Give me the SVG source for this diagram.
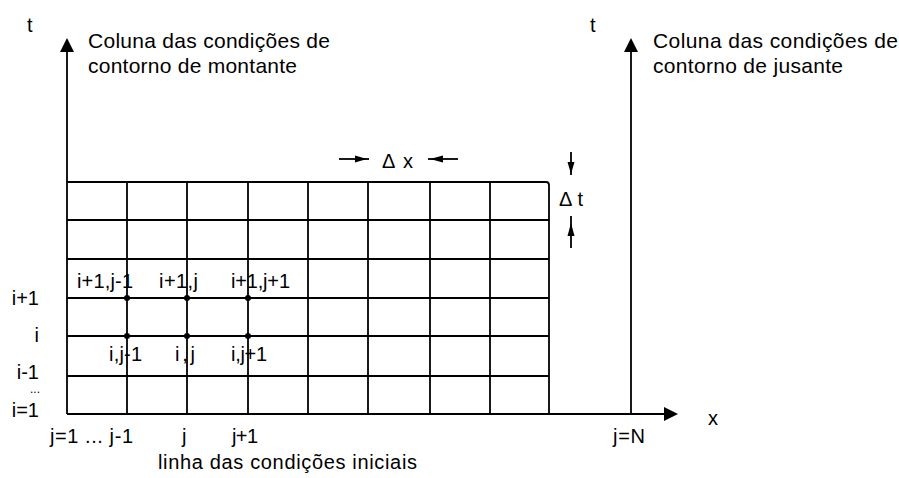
<svg xmlns="http://www.w3.org/2000/svg" width="899" height="478" viewBox="0 0 899 478">
<style>
.t{font-family:"Liberation Sans",Arial,sans-serif;font-size:20px;fill:#000}
.h{font-size:21px}
.ln{stroke:#000;stroke-width:1.8;fill:none}
.ar{fill:#000}
.dot{fill:#000}
</style>
<rect width="899" height="478" fill="#fff"/>
<g id="connectors">
  <line class="ln" x1="67" y1="414" x2="67" y2="50"/>
  <polygon class="ar" points="67,38 60,52 74,52"/>
  <line class="ln" x1="631" y1="414" x2="631" y2="50"/>
  <polygon class="ar" points="631,38 624,52 638,52"/>
  <line class="ln" x1="67" y1="414" x2="666" y2="414"/>
  <polygon class="ar" points="678,414 664,407 664,421"/>
</g>
<g id="grid">
  <path class="ln" d="M67,182 H546 Q549,182 549,185 V414"/>
  <line class="ln" x1="67" y1="220" x2="549" y2="220"/>
  <line class="ln" x1="67" y1="259" x2="549" y2="259"/>
  <line class="ln" x1="67" y1="298" x2="549" y2="298"/>
  <line class="ln" x1="67" y1="336" x2="549" y2="336"/>
  <line class="ln" x1="67" y1="376" x2="549" y2="376"/>
  <line class="ln" x1="127" y1="182" x2="127" y2="414"/>
  <line class="ln" x1="187" y1="182" x2="187" y2="414"/>
  <line class="ln" x1="248" y1="182" x2="248" y2="414"/>
  <line class="ln" x1="308" y1="182" x2="308" y2="414"/>
  <line class="ln" x1="368" y1="182" x2="368" y2="414"/>
  <line class="ln" x1="430" y1="182" x2="430" y2="414"/>
  <line class="ln" x1="490" y1="182" x2="490" y2="414"/>
</g>
<g id="nodes">
  <circle class="dot" cx="127" cy="298" r="3"/>
  <circle class="dot" cx="187" cy="298" r="3"/>
  <circle class="dot" cx="248" cy="298" r="3"/>
  <circle class="dot" cx="127" cy="336" r="3"/>
  <circle class="dot" cx="187" cy="336" r="3"/>
  <circle class="dot" cx="248" cy="336" r="3"/>
</g>
<g id="dx">
  <line class="ln" x1="339" y1="159" x2="369" y2="159"/>
  <polygon class="ar" points="355,155.5 367,159 355,162.5"/>
  <line class="ln" x1="428" y1="159" x2="458" y2="159"/>
  <polygon class="ar" points="443,155.5 430,159 443,162.5"/>
  <text class="t" x="382" y="168" textLength="31" lengthAdjust="spacing">Δ x</text>
</g>
<g id="dt">
  <line class="ln" x1="571" y1="152" x2="571" y2="175"/>
  <polygon class="ar" points="567.5,162 571,174 574.5,162"/>
  <line class="ln" x1="571" y1="216" x2="571" y2="248"/>
  <polygon class="ar" points="567.5,236 571,223 574.5,236"/>
  <text class="t" x="559" y="206" textLength="24" lengthAdjust="spacing">Δ t</text>
</g>
<g id="left-axis-labels">
  <text class="t" x="27" y="32">t</text>
  <text class="t h" x="88" y="48" textLength="242" lengthAdjust="spacing">Coluna das condições de</text>
  <text class="t h" x="88" y="73" textLength="209" lengthAdjust="spacing">contorno de montante</text>
</g>
<g id="right-axis-labels">
  <text class="t" x="590" y="32">t</text>
  <text class="t h" x="653" y="48" textLength="245" lengthAdjust="spacing">Coluna das condições de</text>
  <text class="t h" x="653" y="73" textLength="190" lengthAdjust="spacing">contorno de jusante</text>
</g>
<g id="row-labels">
  <text class="t" x="39" y="305" text-anchor="end">i+1</text>
  <text class="t" x="39" y="342" text-anchor="end">i</text>
  <text class="t" x="39" y="379" text-anchor="end">i-1</text>
  <text class="t" x="40" y="393" text-anchor="end" style="font-size:12px">...</text>
  <text class="t" x="39" y="417" text-anchor="end">i=1</text>
</g>
<g id="point-labels">
  <text class="t" x="77" y="288" textLength="56" lengthAdjust="spacing">i+1,j-1</text>
  <text class="t" x="159" y="288" textLength="39" lengthAdjust="spacing">i+1,j</text>
  <text class="t" x="231" y="288" textLength="59" lengthAdjust="spacing">i+1,j+1</text>
  <text class="t" x="109" y="361" textLength="33" lengthAdjust="spacing">i,j-1</text>
  <text class="t" x="175" y="361" textLength="20" lengthAdjust="spacing">i,j</text>
  <text class="t" x="231" y="361" textLength="36" lengthAdjust="spacing">i,j+1</text>
</g>
<g id="col-labels">
  <text class="t" x="50" y="443" textLength="83" lengthAdjust="spacing">j=1 ... j-1</text>
  <text class="t" x="182" y="443">j</text>
  <text class="t" x="232" y="443" textLength="26" lengthAdjust="spacing">j+1</text>
  <text class="t" x="613" y="443" textLength="32" lengthAdjust="spacing">j=N</text>
  <text class="t" x="708" y="425">x</text>
  <text class="t" x="158" y="469" textLength="259" lengthAdjust="spacing">linha das condições iniciais</text>
</g>
</svg>
